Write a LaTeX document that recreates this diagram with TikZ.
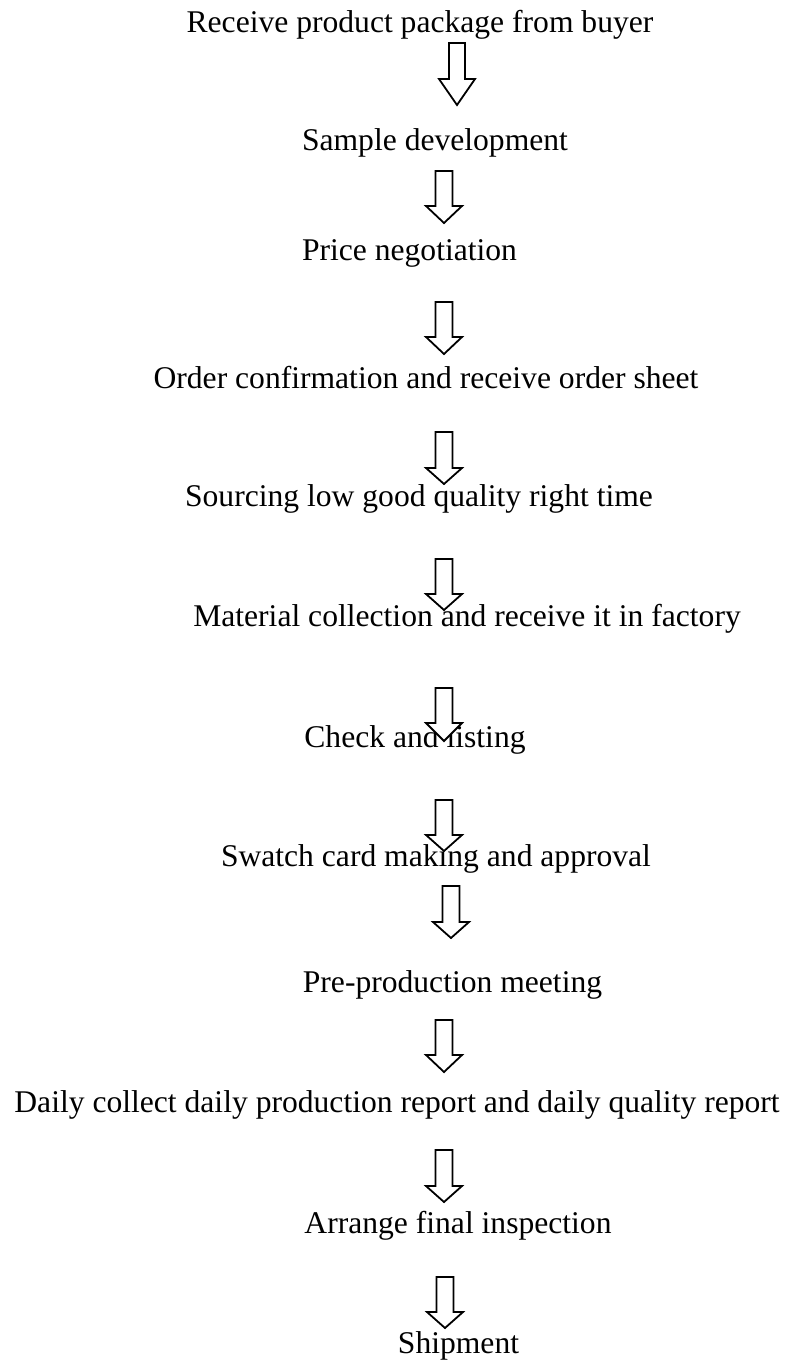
\documentclass[tikz,border=0pt]{standalone}
\usepackage{fontspec}
\setmainfont{Liberation Serif}
\tikzset{
  steplabel/.style={anchor=base, inner sep=0pt, font=\fontsize{31.6}{38}\selectfont},
  flowarrow/.style={draw=black, line width=1.8pt, fill=white, line join=miter},
}
% hollow block arrow pointing down: x, top of shaft, start of head, tip
\newcommand\downblock[4]{%
  \draw[flowarrow] ({#1-8.5},#2) -- ({#1+8.5},#2) -- ({#1+8.5},#3) -- ({#1+18},#3)
    -- (#1,#4) -- ({#1-18},#3) -- ({#1-8.5},#3) -- cycle;}
\begin{document}
\begin{tikzpicture}[x=1pt,y=-1pt]
\useasboundingbox (0,0) rectangle (792,1361);
% process steps
\node[steplabel] (s1)  at (420,32)   {Receive product package from buyer};
\node[steplabel] (s2)  at (435,150)  {Sample development};
\node[steplabel] (s3)  at (409.5,260) {Price negotiation};
\node[steplabel] (s4)  at (426,388)  {Order confirmation and receive order sheet};
\node[steplabel] (s5)  at (419,506)  {Sourcing low good quality right time};
\node[steplabel] (s6)  at (467,626)  {Material collection and receive it in factory};
\node[steplabel] (s7)  at (415,747)  {Check and listing};
\node[steplabel] (s8)  at (436,866)  {Swatch card making and approval};
\node[steplabel] (s9)  at (452.5,992) {Pre-production meeting};
\node[steplabel] (s10) at (397,1112) {Daily collect daily production report and daily quality report};
\node[steplabel] (s11) at (458,1233) {Arrange final inspection};
\node[steplabel] (s12) at (458.5,1353) {Shipment};
% arrows between the steps
\draw[flowarrow] (449,43) -- (465,43) -- (465,79) -- (475,79) -- (457,105) -- (439,79) -- (449,79) -- cycle;
\downblock{444}{171}{206}{223}
\downblock{444}{302}{337}{354}
\downblock{444}{432}{468}{484}
\downblock{444}{559}{594}{610}
\downblock{444}{688}{723}{741}
\downblock{444}{800}{835}{851}
\downblock{451}{886}{922}{938}
\downblock{444}{1020}{1055}{1072}
\downblock{444}{1150}{1186}{1202}
\downblock{445}{1277}{1312}{1328}
\end{tikzpicture}
\end{document}
